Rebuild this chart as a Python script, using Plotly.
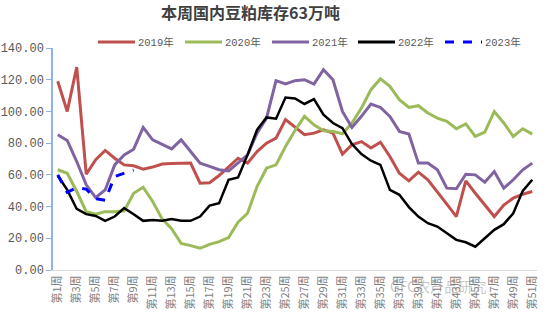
import plotly.graph_objects as go

weeks = [f"第{i}周" for i in range(1, 52)]

y2019 = [119, 100, 128, 60.4, 69.5, 75.4, 70.5, 66.3, 65.7, 63.6, 64.9, 66.8, 67.2,
         67.4, 67.4, 54.7, 55, 59.6, 65.3, 70.5, 67.4, 74.7, 80, 83.2, 94.8, 89.9,
         85.3, 86.3, 88.4, 86.3, 73.1, 79, 81, 76.9, 80.6, 71.6, 61, 56.2, 61.7, 56.9,
         49.5, 41.5, 33.7, 56.2, 48.4, 41, 33.7, 41, 45.3, 47.8, 49.5]
y2020 = [63.2, 61, 49.5, 36.8, 35.2, 36.8, 36.8, 37.3, 48.4, 52.2, 43.2, 32.2, 26,
         16.8, 15.4, 13.7, 16.2, 17.9, 20.4, 30.1, 35.8, 52.6, 64.2, 66.3, 77.9, 88,
         96.9, 91.6, 87.8, 87.4, 85.9, 92.7, 102.1, 113.7, 120.5, 115.8, 107.4, 102.5,
         103.6, 99, 95.8, 93.7, 89.1, 92.2, 84.2, 87, 100, 92.7, 84.2, 89.1, 85.7]
y2021 = [85.3, 81.7, 68.4, 53.7, 45.7, 50.5, 66.3, 72.6, 76.2, 89.9, 82.1, 79, 76.4,
         82.1, 74.7, 67.4, 65.3, 63.2, 62.5, 67.4, 72.6, 86.3, 95.8, 119.4, 117.3, 119.4,
         120, 117.3, 126.3, 120, 100, 89.9, 96.9, 104.7, 102.5, 96.9, 87.4, 85.7,
         67.4, 67.4, 63.2, 51.6, 51.2, 60.4, 60, 55.4, 62.1, 51.6, 56.9, 63.2, 67.4]
y2022 = [59.6, 50.5, 38.5, 35.2, 34.1, 31, 33.7, 39, 35.2, 31, 31.6, 31, 32.2,
         31, 31, 33.7, 40.6, 42.1, 56.9, 58.3, 72.6, 88.4, 96.2, 95.4, 108.8, 108.2,
         104.7, 107.8, 97.9, 92.7, 89.5, 79.4, 73.1, 68.9, 66.3, 50.5, 47.4, 39.7,
         33.7, 29.5, 27.4, 23.2, 19, 17.5, 14.7, 20, 25.3, 28.9, 35.8, 49.9, 56.9]
y2023 = [60, 49, 52, 51, 45, 44, 59, 61, 63]

series_names = ["2019年", "2020年", "2021年", "2022年", "2023年"]
series_vals = [y2019, y2020, y2021, y2022, y2023]
series_colors = ["#C0504D", "#9BBB59", "#8064A2", "#000000", "#0000FF"]
series_dash = ["solid", "solid", "solid", "solid", "dash"]
series_width = [3, 3, 3, 2.5, 3]

# layout geometry (pixels)
W, H = 554, 326
L, R, T, B = 53, 17, 48, 56
PW, PH = W - L - R, H - T - B


def px(x):
    return (x - L) / PW


def py(y):
    return (H - B - y) / PH


fig = go.Figure()
for name, vals, color, dash, w in zip(series_names, series_vals, series_colors,
                                      series_dash, series_width):
    fig.add_trace(go.Scatter(
        x=weeks[:len(vals)], y=vals, name=name, mode="lines",
        line=dict(color=color, width=w, dash=dash),
    ))

fig.update_layout(
    width=W, height=H,
    margin=dict(l=L, r=R, t=T, b=B, autoexpand=False),
    paper_bgcolor="white", plot_bgcolor="white",
    showlegend=False,
)

# manual legend
leg_x0 = [98, 185, 272, 358, 445]
leg_y = 42
for i, name in enumerate(series_names):
    x0 = leg_x0[i]
    fig.add_shape(type="line", xref="paper", yref="paper",
                  x0=px(x0), x1=px(x0 + 37), y0=py(leg_y), y1=py(leg_y),
                  line=dict(color=series_colors[i], width=3, dash=series_dash[i]))
    fig.add_annotation(text=name, xref="paper", yref="paper",
                       x=px(x0 + 38), y=py(leg_y), xanchor="left", yanchor="middle",
                       showarrow=False,
                       font=dict(family="Liberation Mono, Noto Sans CJK SC", size=10.5,
                                 color="#595959"))

fig.add_annotation(text="<b>本周国内豆粕库存63万吨</b>", xref="paper", yref="paper",
                   x=px(250), y=py(12.5), xanchor="center", yanchor="middle",
                   showarrow=False, borderpad=0,
                   font=dict(family="Noto Sans CJK SC", size=16, color="#404040"))
fig.update_xaxes(
    type="category", range=[-0.5, 50.5],
    tickmode="array", tickvals=weeks[::2], ticktext=weeks[::2],
    tickangle=-90, showgrid=False, showline=True, linecolor="#D9D9D9", linewidth=1,
    ticks="", tickfont=dict(family="Noto Sans CJK SC", size=11, color="#7F7F7F"),
)
fig.update_yaxes(
    range=[0, 140], dtick=20, tickformat=".2f", showgrid=False,
    showline=True, linecolor="#8EB4E3", linewidth=1.5,
    ticks="outside", ticklen=5, tickcolor="#8EB4E3",
    zeroline=False,
    tickfont=dict(family="Liberation Mono", size=12, color="#595959"),
)
fig.add_annotation(text="GFC农产品研究", xref="paper", yref="paper",
                   x=px(488), y=py(298), showarrow=False,
                   font=dict(family="Noto Sans CJK SC", size=14, color="rgba(150,150,150,0.55)"))

fig.write_html("out.html")
